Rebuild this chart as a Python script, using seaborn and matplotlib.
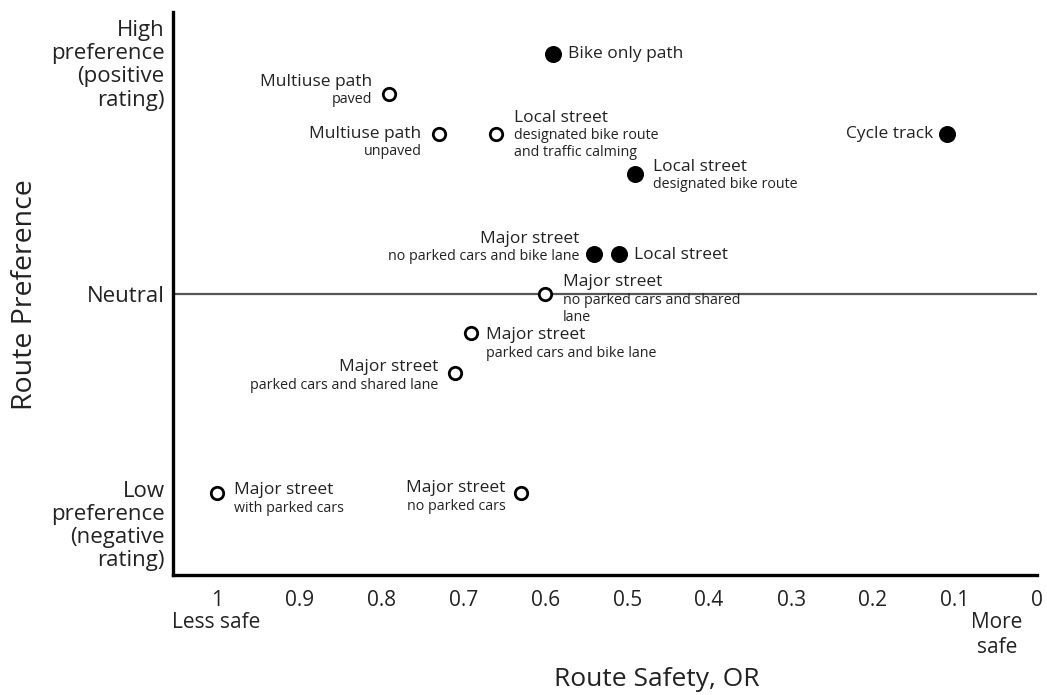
import matplotlib
matplotlib.use("Agg")
import matplotlib.pyplot as plt
import seaborn as sns
import pandas as pd

#%%
# Data
routes = ["Bike only path", "Multiuse path", "Multiuse path", "Local street",
          "Cycle track", "Local street", "Major street", "Local street",
          "Major street", "Major street", "Major street", "Major street",
          "Major street"]
details = ["", "paved", "unpaved", "designated bike route\nand traffic calming",
           "", "designated bike route", "no parked cars and bike lane", "",
           "no parked cars and shared\nlane", "parked cars and bike lane",
           "parked cars and shared lane", "with parked cars", "no parked cars"]
safety_or = [0.59, 0.79, 0.73, 0.66, 0.11, 0.49, 0.54, 0.51, 0.60, 0.69, 0.71, 1.00, 0.63]
preference = [6, 5, 4, 4, 4, 3, 1, 1, 0, -1, -2, -5, -5]
significant = [True, False, False, False, True, True, True, True, False, False, False, False, False]

x_ticks = [1, 0.9, 0.8, 0.7, 0.6, 0.5, 0.4, 0.3, 0.2, 0.1, 0]
x_tick_labels = ["1", "0.9", "0.8", "0.7", "0.6", "0.5", "0.4", "0.3", "0.2", "0.1", "0"]
y_ticks = [5.8, 0, -5.73]
y_tick_labels = ["High\npreference\n(positive\nrating)", "Neutral", "Low\npreference\n(negative\nrating)"]

df = pd.DataFrame(dict(route=routes, detail=details, x=safety_or, y=preference, sig=significant))

#%%
# label placement in pixels: (dx, alignment, dy of the first line)
layout = [(15, "left", 0), (-17, "right", 12), (-17, "right", 0), (18, "left", 16),
          (-14, "right", 0), (18, "left", 7), (-15, "right", 15), (15, "left", -1),
          (18, "left", 11), (15, "left", -2), (-17, "right", 6), (17, "left", 3),
          (-15, "right", 5)]
PX = 0.72  # pixels -> points at dpi 100

sns.set_style("white")
plt.rcParams["font.family"] = ["Open Sans", "DejaVu Sans"]
plt.rcParams["text.color"] = "#222222"

fig = plt.figure(figsize=(10.47, 6.95), dpi=100)
ax = fig.add_axes([173 / 1047, 1 - 575 / 695, (1037 - 173) / 1047, (575 - 12) / 695])

ax.axhline(0, color="#555555", lw=1.6, zorder=1)

sns.scatterplot(data=df[df.sig], x="x", y="y", ax=ax, s=150, color="black",
                edgecolor="black", linewidth=0, zorder=3)
sns.scatterplot(data=df[~df.sig], x="x", y="y", ax=ax, s=80, facecolor="white",
                edgecolor="black", linewidth=2.0, zorder=3)

for (i, row), (dx, side, dy) in zip(df.iterrows(), layout):
    ax.annotate(row.route, (row.x, row.y), xytext=(dx * PX, dy * PX),
                textcoords="offset points", ha=side, va="center", fontsize=12.5)
    if row.detail:
        for k, line in enumerate(row.detail.split("\n")):
            ax.annotate(line, (row.x, row.y), xytext=(dx * PX, (dy - 18 - 17 * k) * PX),
                        textcoords="offset points", ha=side, va="center", fontsize=10.3)

ax.set_xlim(1.054, 0)
ax.set_ylim(-7.05, 7.05)
ax.set_xticks(x_ticks)
ax.set_xticklabels(x_tick_labels, fontsize=15)
ax.set_yticks(y_ticks)
ax.set_yticklabels(y_tick_labels, fontsize=16, linespacing=1.13, ha="right")
ax.tick_params(axis="x", direction="out", length=8, width=2, colors="black",
               labelcolor="#222222", pad=3)
ax.tick_params(axis="y", length=0, pad=6, labelcolor="#222222")

for side in ["top", "right"]:
    ax.spines[side].set_visible(False)
for side in ["left", "bottom"]:
    ax.spines[side].set_linewidth(2.4)
    ax.spines[side].set_color("black")

ax.set_xlabel("")
ax.set_ylabel("")
fig.text(657 / 1047, 1 - 680 / 695, "Route Safety, OR", ha="center", va="center", fontsize=19)
fig.text(25 / 1047, 1 - 295 / 695, "Route Preference", ha="center", va="center",
         rotation=90, fontsize=20.5)
fig.text(172 / 1047, 1 - 623 / 695, "Less safe", ha="left", va="center", fontsize=15)
fig.text(997 / 1047, 1 - 635 / 695, "More\nsafe", ha="center", va="center",
         fontsize=15, linespacing=1.25)

fig.savefig("out.png", dpi=100)
